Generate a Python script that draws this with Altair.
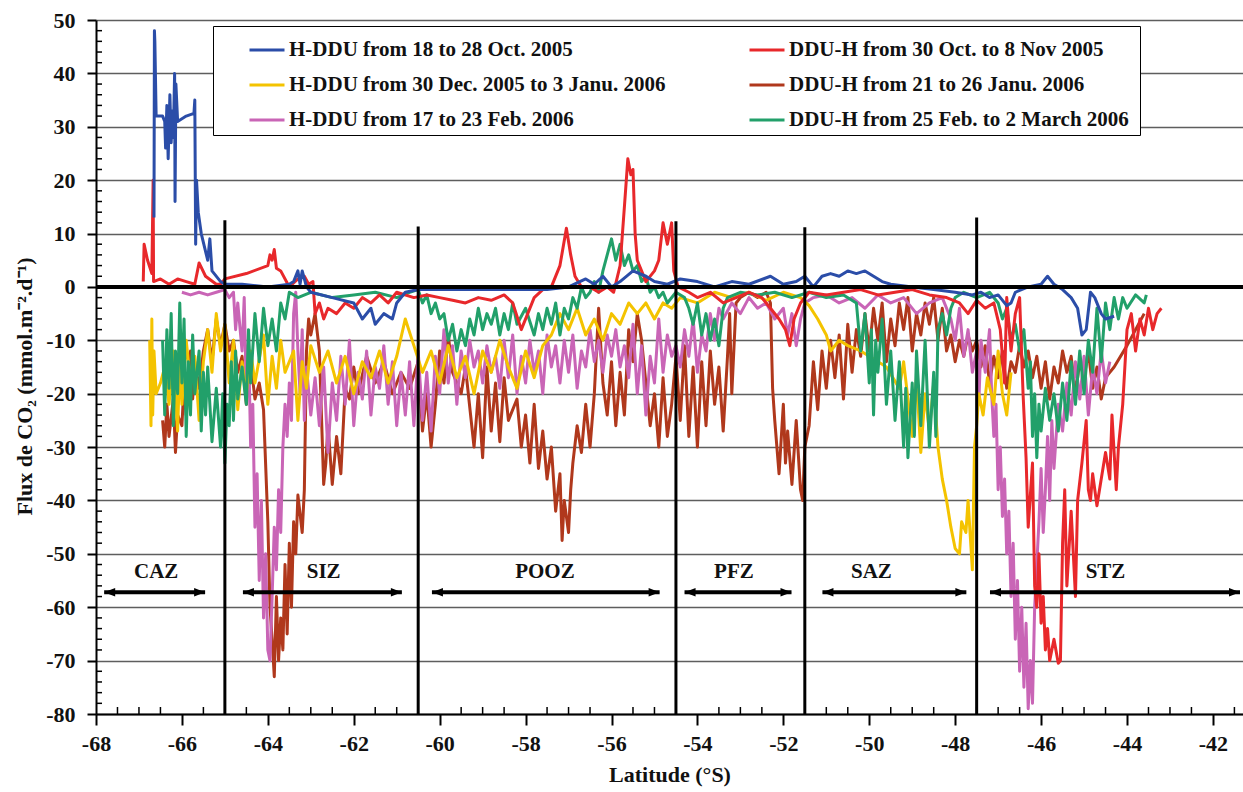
import altair as alt
import pandas as pd

# ---------------- data ----------------
SERIES = [
    "H-DDU from 18 to 28 Oct. 2005",
    "DDU-H  from 30 Oct. to 8 Nov 2005",
    "H-DDU from 30 Dec. 2005 to 3 Janu. 2006",
    "DDU-H  from 21 to 26 Janu. 2006",
    " H-DDU from 17 to 23 Feb. 2006",
    "DDU-H from  25 Feb. to 2 March 2006",
]
COLORS = ["#2b4da8", "#e8282b", "#f4c300", "#b0381c", "#c965b6", "#22a06a"]

# (latitude, flux) pairs
BLUE = [(-66.65, 13), (-66.64, 48), (-66.63, 46), (-66.6, 32), (-66.45, 32), (-66.4, 31),
        (-66.38, 26), (-66.35, 34), (-66.32, 24), (-66.28, 36), (-66.25, 27), (-66.22, 33),
        (-66.2, 28), (-66.17, 40), (-66.16, 16), (-66.14, 38), (-66.1, 31), (-65.9, 32),
        (-65.72, 32.5), (-65.7, 35), (-65.68, 8), (-65.66, 20), (-65.62, 14), (-65.55, 10),
        (-65.4, 5), (-65.35, 9), (-65.3, 3), (-65.1, 1), (-65.0, 0.5), (-64.6, 0.5),
        (-64.0, 0), (-63.5, 0.5), (-63.4, 1), (-63.3, 3), (-63.25, 0.5), (-63.2, 3),
        (-63.1, 0), (-63.0, -1), (-62.5, -2), (-62.0, -3), (-61.8, -6), (-61.6, -4),
        (-61.5, -7), (-61.3, -5), (-61.1, -6), (-61.0, -3), (-60.8, -1), (-60.5, -0.5),
        (-59.0, -0.5), (-57.5, -0.5), (-57.0, 0), (-56.6, 1.5), (-56.4, 0.5), (-56.2, 2),
        (-56.0, 0), (-55.8, 1), (-55.5, 3), (-55.2, 2), (-55.0, 1), (-54.7, 0.5),
        (-54.4, 1.5), (-54.0, 1), (-53.6, 0), (-53.2, 1), (-52.8, 0.5), (-52.3, 2),
        (-52.0, 0.5), (-51.7, 1), (-51.5, 2), (-51.3, 0), (-51.1, 2), (-50.9, 2.5),
        (-50.7, 2), (-50.5, 3), (-50.3, 2.5), (-50.1, 3), (-49.9, 2), (-49.7, 1),
        (-49.5, 0.5), (-49.0, 0), (-48.5, -0.5), (-48.0, -1), (-47.6, -1.5), (-47.4, -1),
        (-47.2, -2), (-47.0, -1.5), (-46.8, -3.5), (-46.7, -3), (-46.6, -1), (-46.3, 0),
        (-46.0, 0.5), (-45.85, 2), (-45.7, 0.5), (-45.5, -0.5), (-45.3, -2), (-45.15, -4),
        (-45.05, -9), (-44.95, -8), (-44.85, -1), (-44.75, -2), (-44.6, -5), (-44.5, -6),
        (-44.3, -5.5)]

RED = [(-66.9, 1), (-66.88, 8), (-66.8, 5), (-66.7, 2.5), (-66.67, 20), (-66.66, 1),
       (-66.5, 1.5), (-66.3, 0.5), (-66.1, 1.5), (-65.9, 1), (-65.7, 0.5), (-65.6, 4.5),
       (-65.45, 2), (-65.2, 0.5), (-65.1, 0.5), (-65.0, 1.5), (-64.5, 2.5), (-64.0, 4),
       (-63.95, 6), (-63.9, 5), (-63.85, 7), (-63.8, 3.5), (-63.7, 3), (-63.5, 0),
       (-63.3, 1.5), (-63.15, 2), (-63.05, 0.5), (-62.95, 1), (-62.9, -5), (-62.8, -3),
       (-62.7, -6), (-62.6, -4), (-62.4, -5), (-62.2, -3), (-62.0, -4), (-61.8, -2),
       (-61.6, -3), (-61.4, -1.5), (-61.2, -3), (-61.0, -1), (-60.6, -2), (-60.3, -1.5),
       (-60.0, -2), (-59.7, -2.5), (-59.4, -3), (-59.1, -2), (-58.8, -2.5), (-58.5, -1.5),
       (-58.3, -3), (-58.1, -8), (-57.95, -5), (-57.8, -2), (-57.6, -0.5), (-57.4, 0),
       (-57.2, 4), (-57.05, 11), (-56.95, 6), (-56.85, 2), (-56.7, 0), (-56.5, 0),
       (-56.3, -1), (-56.1, 0), (-55.95, -1), (-55.8, 4), (-55.7, 15), (-55.62, 24),
       (-55.55, 21), (-55.5, 22), (-55.45, 10), (-55.4, 5), (-55.3, 3), (-55.2, 1),
       (-55.0, 3), (-54.9, 5), (-54.8, 12), (-54.7, 8), (-54.6, 12), (-54.55, 3),
       (-54.45, 0), (-54.2, -1), (-54.0, -2), (-53.7, -1), (-53.4, -3), (-53.1, -2),
       (-52.8, -1), (-52.5, -2), (-52.3, -4), (-52.1, -6), (-51.95, -8), (-51.85, -11),
       (-51.75, -6), (-51.6, -3), (-51.4, -1), (-51.0, -1.5), (-50.6, -1), (-50.2, -0.5),
       (-49.8, -1.5), (-49.4, -1), (-49.0, -0.5), (-48.6, -1.5), (-48.2, -2), (-47.9, -3),
       (-47.7, -5), (-47.5, -2.5), (-47.3, -4), (-47.1, -3), (-46.95, -8), (-46.85, -18),
       (-46.8, -2), (-46.7, -12), (-46.6, -5), (-46.5, -2), (-46.42, -20), (-46.35, -32),
       (-46.3, -45), (-46.2, -33), (-46.15, -56), (-46.1, -60), (-46.05, -50), (-46.0, -63),
       (-45.95, -58), (-45.9, -68), (-45.85, -64), (-45.8, -70), (-45.7, -66), (-45.6, -70.5),
       (-45.55, -70), (-45.5, -48), (-45.45, -38), (-45.4, -56), (-45.3, -42), (-45.2, -58),
       (-45.15, -40), (-45.05, -33), (-44.95, -25), (-44.9, -38), (-44.85, -40), (-44.8, -35),
       (-44.7, -41), (-44.6, -36), (-44.5, -31), (-44.4, -36), (-44.35, -24), (-44.25, -38),
       (-44.2, -30), (-44.1, -22), (-44.05, -15), (-44.0, -8), (-43.9, -5), (-43.8, -12),
       (-43.7, -6), (-43.6, -9), (-43.5, -4), (-43.4, -8), (-43.3, -5), (-43.2, -4)]

YELLOW = [(-66.75, -10), (-66.72, -26), (-66.7, -6), (-66.68, -24), (-66.65, -12), (-66.6, -20),
          (-66.5, -18), (-66.4, -15), (-66.3, -22), (-66.2, -12), (-66.1, -27), (-66.05, -14),
          (-66.0, -22), (-65.9, -10), (-65.8, -18), (-65.7, -13), (-65.6, -25), (-65.5, -14),
          (-65.4, -8), (-65.3, -16), (-65.2, -5), (-65.1, -12), (-65.0, -7), (-64.9, -18),
          (-64.8, -10), (-64.7, -23), (-64.6, -14), (-64.5, -20), (-64.4, -12), (-64.3, -18),
          (-64.1, -9), (-64.0, -22), (-63.9, -13), (-63.8, -19), (-63.7, -10), (-63.6, -16),
          (-63.4, -12), (-63.3, -25), (-63.2, -14), (-63.1, -19), (-63.0, -11), (-62.8, -16),
          (-62.6, -12), (-62.4, -18), (-62.2, -13), (-62.0, -20), (-61.8, -14), (-61.6, -17),
          (-61.4, -12), (-61.2, -18), (-61.0, -13), (-60.8, -6), (-60.6, -11), (-60.4, -16),
          (-60.2, -12), (-60.0, -18), (-59.8, -11), (-59.6, -17), (-59.4, -13), (-59.2, -20),
          (-59.0, -12), (-58.8, -16), (-58.6, -10), (-58.4, -15), (-58.2, -19), (-58.0, -12),
          (-57.8, -17), (-57.6, -11), (-57.4, -9), (-57.2, -5), (-57.0, -8), (-56.8, -4),
          (-56.6, -9), (-56.4, -6), (-56.2, -10), (-56.0, -5), (-55.8, -7), (-55.6, -3),
          (-55.4, -5), (-55.2, -3), (-55.0, -6), (-54.8, -3), (-54.6, -4), (-54.4, -2),
          (-54.0, -3), (-53.6, -1), (-53.2, -2), (-52.8, -1), (-52.4, -2.5), (-52.0, -1),
          (-51.6, -2), (-51.4, -3.5), (-51.2, -6), (-51.0, -9), (-50.9, -12), (-50.7, -10),
          (-50.5, -11), (-50.2, -12), (-50.0, -13), (-49.6, -15), (-49.3, -19), (-49.2, -14),
          (-49.0, -28), (-48.9, -17), (-48.8, -31), (-48.7, -20), (-48.6, -27), (-48.5, -18),
          (-48.4, -30), (-48.3, -36), (-48.2, -40), (-48.1, -45), (-48.0, -49), (-47.9, -50),
          (-47.85, -44), (-47.75, -46), (-47.7, -40), (-47.6, -53), (-47.55, -30), (-47.5, -26),
          (-47.45, -20), (-47.35, -24), (-47.25, -17), (-47.1, -22), (-47.0, -12), (-46.9, -20),
          (-46.8, -24), (-46.7, -16)]

BROWN = [(-66.45, -25), (-66.4, -30), (-66.35, -22), (-66.3, -28), (-66.2, -21), (-66.15, -31),
         (-66.1, -24), (-66.0, -26), (-65.95, -18), (-65.9, -24), (-65.8, -12), (-65.75, -21),
         (-65.7, -14), (-65.6, -19), (-65.5, -12), (-65.4, -8), (-65.3, -14), (-65.2, -6),
         (-65.1, -11), (-65.0, -7), (-64.9, -12), (-64.8, -10), (-64.7, -16), (-64.6, -13),
         (-64.5, -22), (-64.4, -14), (-64.3, -21), (-64.2, -18), (-64.1, -23), (-64.0, -44),
         (-63.95, -60), (-63.9, -66), (-63.85, -73), (-63.8, -58), (-63.75, -70), (-63.7, -62),
         (-63.65, -68), (-63.6, -52), (-63.55, -65), (-63.5, -48), (-63.45, -60), (-63.4, -44),
         (-63.35, -50), (-63.3, -39), (-63.2, -46), (-63.15, -38), (-63.1, -12), (-63.05, -6),
         (-63.0, -9), (-62.9, -5), (-62.8, -12), (-62.7, -37), (-62.65, -33), (-62.6, -26),
         (-62.5, -37), (-62.4, -28), (-62.3, -35), (-62.2, -19), (-62.1, -21), (-62.0, -15),
         (-61.9, -20), (-61.7, -13), (-61.5, -18), (-61.3, -14), (-61.1, -20), (-60.9, -16),
         (-60.7, -19), (-60.5, -14), (-60.4, -27), (-60.3, -20), (-60.2, -30), (-60.1, -22),
         (-60.0, -12), (-59.9, -18), (-59.8, -9), (-59.7, -16), (-59.5, -20), (-59.4, -15),
         (-59.2, -30), (-59.1, -20), (-59.0, -32), (-58.9, -15), (-58.8, -27), (-58.7, -18),
         (-58.6, -29), (-58.5, -17), (-58.4, -25), (-58.2, -21), (-58.1, -30), (-58.0, -24),
         (-57.9, -33), (-57.8, -22), (-57.7, -34), (-57.6, -27), (-57.5, -36), (-57.4, -30),
         (-57.3, -42), (-57.2, -35), (-57.15, -47.5), (-57.1, -40), (-57.0, -46), (-56.95, -38),
         (-56.9, -33), (-56.8, -26), (-56.7, -31), (-56.6, -22), (-56.5, -30), (-56.4, -20),
         (-56.3, -4), (-56.2, -18), (-56.1, -24), (-56.0, -14), (-55.9, -26), (-55.8, -16),
         (-55.7, -24), (-55.6, -8), (-55.5, -14), (-55.4, -5), (-55.3, -10), (-55.2, -18),
         (-55.1, -26), (-55.0, -20), (-54.9, -30), (-54.8, -17), (-54.7, -28), (-54.6, -22),
         (-54.5, -13), (-54.4, -25), (-54.3, -11), (-54.2, -28), (-54.1, -15), (-54.0, -30),
         (-53.9, -14), (-53.8, -26), (-53.7, -12), (-53.6, -22), (-53.5, -15), (-53.4, -27),
         (-53.3, -13), (-53.25, -5), (-53.2, -20), (-53.1, -3), (-53.0, -2), (-52.8, -1),
         (-52.6, -2), (-52.4, -1), (-52.3, -3), (-52.25, -19), (-52.2, -25), (-52.1, -35),
         (-52.0, -22), (-51.95, -33), (-51.9, -27), (-51.8, -37), (-51.7, -25), (-51.6, -38),
         (-51.55, -40), (-51.5, -30), (-51.4, -26), (-51.3, -14), (-51.2, -23), (-51.1, -12),
         (-51.0, -19), (-50.9, -10), (-50.8, -17), (-50.7, -9), (-50.6, -21), (-50.5, -7),
         (-50.4, -16), (-50.3, -8), (-50.2, -13), (-50.1, -5), (-50.0, -12), (-49.9, -4),
         (-49.8, -10), (-49.7, -3), (-49.6, -14), (-49.5, -6), (-49.4, -11), (-49.3, -3),
         (-49.2, -8), (-49.1, -2), (-49.0, -12), (-48.9, -5), (-48.8, -9), (-48.7, -3),
         (-48.6, -7), (-48.5, -2), (-48.4, -10), (-48.3, -4), (-48.2, -12), (-48.1, -9),
         (-48.0, -14), (-47.9, -10), (-47.8, -13), (-47.7, -9), (-47.6, -12), (-47.5, -10),
         (-47.4, -15), (-47.3, -11), (-47.2, -18), (-47.1, -13), (-47.0, -17), (-46.9, -12),
         (-46.8, -19), (-46.7, -14), (-46.6, -16), (-46.5, -11), (-46.4, -15), (-46.3, -12),
         (-46.2, -17), (-46.1, -13), (-46.0, -19), (-45.9, -14), (-45.8, -21), (-45.7, -15),
         (-45.6, -18), (-45.5, -12), (-45.4, -16), (-45.3, -13), (-45.2, -20), (-45.1, -14),
         (-45.0, -17), (-44.9, -12), (-44.8, -19), (-44.7, -15), (-44.6, -21), (-44.5, -17),
         (-44.3, -15), (-44.0, -11), (-43.8, -8), (-43.6, -5)]

PINK = [(-66.0, -1), (-65.8, -1.5), (-65.6, -1), (-65.4, -1.5), (-65.2, -1), (-65.0, -0.5),
        (-64.9, -2), (-64.8, -1), (-64.75, -8), (-64.7, -3), (-64.6, -12), (-64.55, -2),
        (-64.5, -20), (-64.45, -10), (-64.4, -30), (-64.35, -22), (-64.3, -45), (-64.25, -35),
        (-64.2, -55), (-64.15, -40), (-64.1, -62), (-64.05, -50), (-64.0, -68), (-63.95, -70),
        (-63.9, -58), (-63.85, -45), (-63.8, -53), (-63.75, -38), (-63.7, -46), (-63.65, -30),
        (-63.6, -22), (-63.55, -28), (-63.5, -18), (-63.45, -25), (-63.4, -5), (-63.35, -1),
        (-63.3, -12), (-63.25, -20), (-63.2, -8), (-63.15, -25), (-63.1, -15), (-63.0, -24),
        (-62.9, -17), (-62.8, -26), (-62.7, -15), (-62.6, -31), (-62.5, -18), (-62.4, -25),
        (-62.3, -13), (-62.2, -22), (-62.1, -10), (-62.0, -26), (-61.9, -16), (-61.8, -21),
        (-61.7, -12), (-61.6, -24), (-61.5, -15), (-61.4, -19), (-61.3, -11), (-61.2, -22),
        (-61.1, -14), (-61.0, -26), (-60.9, -16), (-60.8, -24), (-60.7, -14), (-60.6, -26),
        (-60.5, -12), (-60.4, -25), (-60.3, -16), (-60.2, -27), (-60.1, -13), (-60.0, -20),
        (-59.9, -8), (-59.8, -18), (-59.7, -11), (-59.6, -22), (-59.5, -12), (-59.4, -17),
        (-59.3, -10), (-59.2, -15), (-59.1, -12), (-59.0, -18), (-58.9, -11), (-58.8, -16),
        (-58.7, -13), (-58.6, -19), (-58.5, -10), (-58.4, -17), (-58.3, -9), (-58.2, -20),
        (-58.1, -13), (-58.0, -18), (-57.9, -10), (-57.8, -16), (-57.7, -12), (-57.6, -20),
        (-57.5, -9), (-57.4, -15), (-57.3, -11), (-57.2, -18), (-57.1, -10), (-57.0, -16),
        (-56.9, -9), (-56.8, -19), (-56.7, -12), (-56.6, -15), (-56.5, -8), (-56.4, -14),
        (-56.3, -10), (-56.2, -16), (-56.1, -9), (-56.0, -13), (-55.9, -8), (-55.8, -15),
        (-55.7, -11), (-55.6, -17), (-55.5, -7), (-55.4, -20), (-55.3, -11), (-55.2, -24),
        (-55.1, -13), (-55.0, -18), (-54.9, -6), (-54.8, -16), (-54.7, -9), (-54.6, -13),
        (-54.5, -11), (-54.4, -15), (-54.3, -8), (-54.2, -13), (-54.1, -6), (-54.0, -16),
        (-53.9, -9), (-53.8, -12), (-53.7, -5), (-53.6, -10), (-53.5, -4), (-53.4, -6),
        (-53.2, -3), (-53.0, -5), (-52.8, -2), (-52.6, -4), (-52.4, -3), (-52.2, -6),
        (-52.0, -4), (-51.9, -9), (-51.8, -5), (-51.7, -11), (-51.6, -6), (-51.5, -3),
        (-51.3, -2), (-51.0, -1.5), (-50.7, -3), (-50.4, -2), (-50.1, -4), (-49.8, -1.5),
        (-49.5, -3), (-49.2, -2), (-48.9, -5), (-48.6, -3), (-48.3, -2), (-48.1, -6),
        (-48.0, -10), (-47.9, -4), (-47.8, -13), (-47.7, -8), (-47.6, -16), (-47.5, -12),
        (-47.45, -22), (-47.4, -10), (-47.3, -16), (-47.2, -8), (-47.15, -20), (-47.1, -28),
        (-47.05, -22), (-47.0, -38), (-46.95, -30), (-46.9, -43), (-46.85, -36), (-46.8, -50),
        (-46.75, -42), (-46.7, -58), (-46.65, -48), (-46.6, -66), (-46.55, -55), (-46.5, -72),
        (-46.45, -60), (-46.4, -75), (-46.35, -63), (-46.3, -79), (-46.25, -70), (-46.2, -78),
        (-46.15, -60), (-46.1, -52), (-46.05, -44), (-46.0, -34), (-45.95, -46), (-45.9, -38),
        (-45.85, -28), (-45.8, -40), (-45.75, -25), (-45.7, -34), (-45.6, -22), (-45.5, -27),
        (-45.4, -18), (-45.3, -24), (-45.2, -14), (-45.1, -21), (-45.0, -13), (-44.9, -24),
        (-44.8, -15), (-44.7, -20), (-44.6, -12), (-44.5, -18), (-44.4, -14)]

GREEN = [(-66.45, -10), (-66.4, -24), (-66.35, -8), (-66.3, -19), (-66.25, -5), (-66.2, -26),
         (-66.15, -12), (-66.1, -20), (-66.05, -3), (-66.0, -18), (-65.95, -6), (-65.9, -28),
         (-65.85, -14), (-65.8, -24), (-65.75, -9), (-65.7, -20), (-65.6, -12), (-65.55, -27),
         (-65.5, -16), (-65.45, -24), (-65.4, -15), (-65.3, -29), (-65.2, -19), (-65.1, -30),
         (-65.05, -20), (-65.0, -33), (-64.95, -22), (-64.9, -26), (-64.85, -14), (-64.8, -25),
         (-64.75, -12), (-64.7, -21), (-64.6, -15), (-64.5, -22), (-64.45, -8), (-64.4, -18),
         (-64.3, -5), (-64.2, -14), (-64.1, -4), (-64.0, -11), (-63.9, -6), (-63.8, -12),
         (-63.7, -3), (-63.6, -6), (-63.5, -1), (-63.3, -2), (-63.0, -1), (-62.5, -2),
         (-62.0, -1.5), (-61.5, -1), (-61.0, -2), (-60.7, -1), (-60.5, -0.5), (-60.4, -3),
         (-60.3, -1.5), (-60.2, -5), (-60.1, -3), (-60.0, -6), (-59.9, -5), (-59.8, -10),
         (-59.7, -7), (-59.6, -12), (-59.5, -8), (-59.4, -11), (-59.3, -6), (-59.2, -9),
         (-59.1, -4), (-59.0, -8), (-58.9, -5), (-58.8, -7), (-58.7, -4), (-58.6, -9),
         (-58.5, -5), (-58.4, -8), (-58.3, -3), (-58.2, -7), (-58.0, -4), (-57.8, -9),
         (-57.7, -5), (-57.6, -8), (-57.5, -4), (-57.4, -7), (-57.3, -3), (-57.2, -9),
         (-57.1, -4), (-57.0, -6), (-56.9, -2), (-56.8, -4), (-56.7, 0), (-56.6, -2),
         (-56.5, -1), (-56.4, 1), (-56.3, -1), (-56.2, 3), (-56.1, 6), (-56.0, 9),
         (-55.9, 5), (-55.8, 8), (-55.7, 4), (-55.6, 6), (-55.5, 3), (-55.4, 4),
         (-55.3, 1), (-55.2, 2), (-55.1, -1), (-55.0, 0), (-54.9, -2), (-54.8, -1),
         (-54.7, -3), (-54.5, -1), (-54.3, -2), (-54.2, -4), (-54.1, -7), (-54.0, -3),
         (-53.9, -9), (-53.8, -5), (-53.7, -10), (-53.6, -6), (-53.5, -11), (-53.4, -4),
         (-53.3, -2), (-53.0, -1), (-52.6, -1.5), (-52.2, -1), (-51.8, -2), (-51.4, -1),
         (-51.0, -2), (-50.6, -1.5), (-50.3, -3), (-50.2, -12), (-50.1, -5), (-50.0, -18),
         (-49.95, -8), (-49.9, -24), (-49.85, -10), (-49.8, -16), (-49.7, -6), (-49.6, -22),
         (-49.5, -12), (-49.4, -25), (-49.3, -14), (-49.2, -30), (-49.15, -19), (-49.1, -32),
         (-49.0, -18), (-48.95, -28), (-48.9, -12), (-48.8, -26), (-48.7, -10), (-48.6, -30),
         (-48.5, -16), (-48.45, -28), (-48.4, -8), (-48.3, -5), (-48.2, -9), (-48.1, -4),
         (-48.0, -2), (-47.8, -1), (-47.5, -2), (-47.2, -1), (-47.0, -3), (-46.9, -6),
         (-46.8, -4), (-46.7, -10), (-46.6, -7), (-46.5, -12), (-46.4, -8), (-46.3, -19),
         (-46.25, -14), (-46.2, -28), (-46.15, -20), (-46.1, -32), (-46.05, -22), (-46.0, -27),
         (-45.9, -19), (-45.8, -25), (-45.7, -20), (-45.6, -27), (-45.5, -18), (-45.4, -25),
         (-45.3, -14), (-45.2, -22), (-45.1, -12), (-45.0, -20), (-44.9, -10), (-44.8, -16),
         (-44.7, -4), (-44.6, -14), (-44.5, -3), (-44.4, -8), (-44.3, -2), (-44.2, -6),
         (-44.1, -2), (-44.0, -4), (-43.8, -1.5), (-43.6, -3), (-43.55, -1.5)]

# fronts (latitude of vertical line, top of the line)
FRONT_LAT = [-65.0, -60.5, -54.5, -51.5, -47.5]
FRONT_TOP = [12.5, 11.3, 12.3, 11.2, 13.0]

# zones: label, arrow start, arrow end, label latitude
ZONE_NAME = ["CAZ", "SIZ", "POOZ", "PFZ", "SAZ", "STZ"]
ZONE_START = [-67.81, -64.58, -60.18, -54.30, -51.09, -47.19]
ZONE_END = [-65.46, -60.88, -54.88, -51.81, -47.74, -41.37]
ZONE_LABEL = [-66.6, -62.7, -57.55, -53.15, -49.95, -44.5]
ARROW_Y = -57.2
LABEL_Y = -53.4

X_TICKS = list(range(-68, -41, 2))
Y_TICKS = list(range(-80, 51, 10))
X_MINOR = [v / 2 for v in range(-136, -82) if v % 4 != 0]
Y_MINOR = [v for v in range(-78, 50, 2) if v % 10 != 0]

# ---------------- build ----------------
W, H = 1147, 694
FONT = "Liberation Serif"

rows = []
all_series = [BLUE, RED, YELLOW, BROWN, PINK, GREEN]
for name, pts in zip(SERIES, all_series):
    for i, (la, fl) in enumerate(pts):
        rows.append({"series": name, "lat": la, "flux": fl, "i": i})
df = pd.DataFrame(rows)

xscale = alt.Scale(domain=[-68, -41.3], nice=False, zero=False)
yscale = alt.Scale(domain=[-80, 50], nice=False, zero=False)

x_axis = alt.Axis(values=X_TICKS, title="Latitude (°S)", grid=False,
                  labelExpr="'' + datum.value",
                  tickSize=11, tickWidth=2, tickColor="black", domainColor="black", domainWidth=2,
                  labelPadding=8, titlePadding=10, labelFlush=False)
y_axis = alt.Axis(values=Y_TICKS, title="Flux de CO₂ (mmol.m⁻².d⁻¹)",
                  labelExpr="'' + datum.value",
                  grid=True, gridColor="#5e5e5e", gridWidth=1.5,
                  tickSize=9, tickWidth=2, tickColor="black", domainColor="black", domainWidth=2,
                  labelPadding=12, titleX=-60, titleY=366, titleAngle=270,
                  titleBaseline="bottom", titleAlign="center", labelFlush=False)

color_scale = alt.Scale(domain=SERIES, range=COLORS)
legend = alt.Legend(orient="none", legendX=117, legendY=6, columns=2, direction="horizontal",
                    title=None, symbolType="stroke", symbolStrokeWidth=3, symbolSize=1225,
                    symbolOffset=30, labelLimit=600, fillColor="white", strokeColor="black",
                    padding=5, columnPadding=52, rowPadding=6, gridAlign="all", labelOffset=3)

base_axes = alt.Chart(df).mark_line(opacity=0).encode(
    x=alt.X("lat:Q", scale=xscale, axis=x_axis),
    y=alt.Y("flux:Q", scale=yscale, axis=y_axis),
)

draw_order = [3, 4, 2, 5, 1, 0]
line_layers = []
for k in draw_order:
    name = SERIES[k]
    line_layers.append(
        alt.Chart(df).transform_filter(alt.datum.series == name).mark_line(
            strokeWidth=3, strokeJoin="round").encode(
            x=alt.X("lat:Q", scale=xscale),
            y=alt.Y("flux:Q", scale=yscale),
            color=alt.Color("series:N", scale=color_scale, legend=legend),
            order=alt.Order("i:Q"),
        )
    )

zero_df = pd.DataFrame({"y": [0]})
zero_line = alt.Chart(zero_df).mark_rule(color="black", strokeWidth=4).encode(
    y=alt.Y("y:Q", scale=yscale))

front_df = pd.DataFrame({"lat": FRONT_LAT, "top": FRONT_TOP, "bottom": [-80] * len(FRONT_LAT)})
fronts = alt.Chart(front_df).mark_rule(color="black", strokeWidth=3).encode(
    x=alt.X("lat:Q", scale=xscale),
    y=alt.Y("bottom:Q", scale=yscale), y2="top:Q")

zone_df = pd.DataFrame({"name": ZONE_NAME, "start": ZONE_START, "end": ZONE_END,
                        "lab": ZONE_LABEL, "ay": [ARROW_Y] * 6, "ly": [LABEL_Y] * 6})
shafts = alt.Chart(zone_df).mark_rule(color="black", strokeWidth=4).encode(
    x=alt.X("start:Q", scale=xscale), x2="end:Q",
    y=alt.Y("ay:Q", scale=yscale))
left_heads = alt.Chart(zone_df).mark_point(
    shape="M0,0L2.2,-0.85L2.2,0.85Z", filled=True, color="black", opacity=1, size=100).encode(
    x=alt.X("start:Q", scale=xscale), y=alt.Y("ay:Q", scale=yscale))
right_heads = alt.Chart(zone_df).mark_point(
    shape="M0,0L-2.2,-0.85L-2.2,0.85Z", filled=True, color="black", opacity=1, size=100).encode(
    x=alt.X("end:Q", scale=xscale), y=alt.Y("ay:Q", scale=yscale))
zone_text = alt.Chart(zone_df).mark_text(font=FONT, fontSize=21, fontWeight="bold",
                                         color="#111", baseline="middle").encode(
    x=alt.X("lab:Q", scale=xscale), y=alt.Y("ly:Q", scale=yscale),
    text="name:N")

xminor_df = pd.DataFrame({"v": X_MINOR})
xminor = alt.Chart(xminor_df).mark_rule(color="black", strokeWidth=1.5).encode(
    x=alt.X("v:Q", scale=xscale), y=alt.value(H), y2=alt.value(H - 7))
yminor_df = pd.DataFrame({"v": Y_MINOR})
yminor = alt.Chart(yminor_df).mark_rule(color="black", strokeWidth=1.5).encode(
    y=alt.Y("v:Q", scale=yscale), x=alt.value(0), x2=alt.value(6))

chart = alt.layer(
    base_axes, *line_layers, zero_line, fronts, shafts, left_heads, right_heads,
    zone_text, xminor, yminor,
).properties(
    width=W, height=H,
    padding={"left": 96, "top": 20, "right": 0, "bottom": 78},
    autosize=alt.AutoSizeParams(type="none"),
    background="white",
).configure(
    font=FONT,
).configure_view(
    stroke=None,
).configure_axis(
    labelFont=FONT, labelFontSize=22, labelFontWeight="bold", labelColor="#111",
    titleFont=FONT, titleFontSize=22, titleFontWeight="bold", titleColor="#111",
).configure_legend(
    labelFont=FONT, labelFontSize=21, labelFontWeight="bold", labelColor="#111",
)

chart.save("out.html", embed_options={"renderer": "svg", "actions": False})
